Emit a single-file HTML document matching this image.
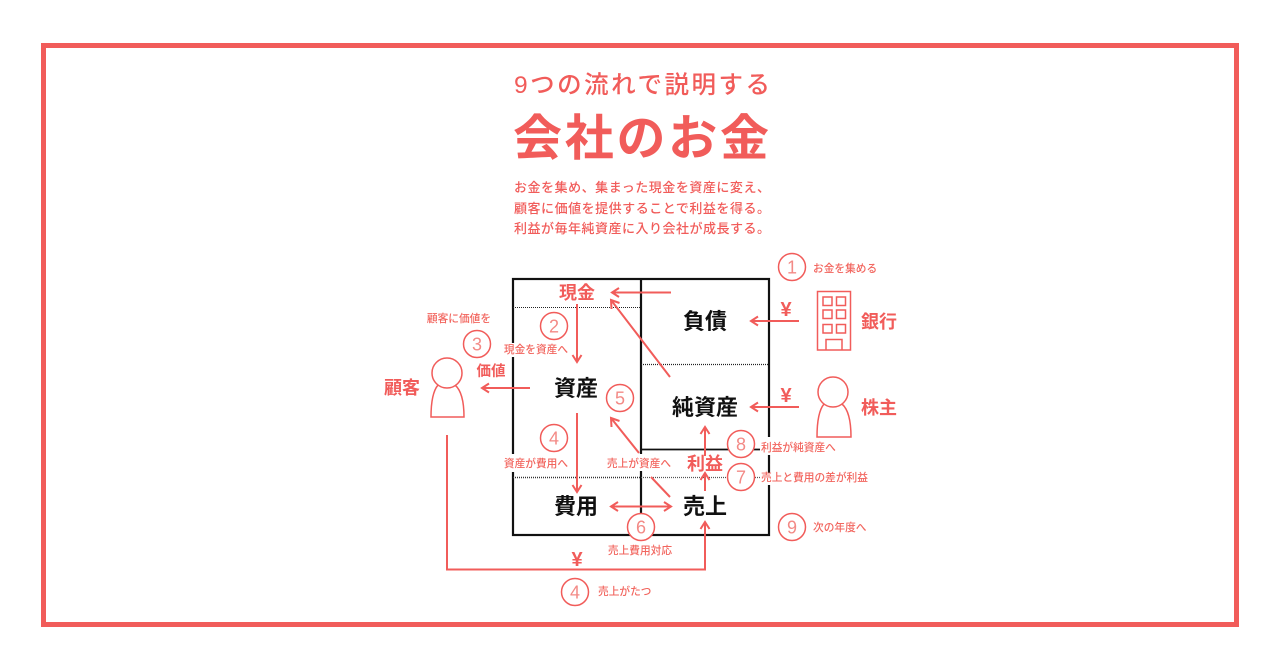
<!DOCTYPE html>
<html lang="ja">
<head>
<meta charset="utf-8">
<title>会社のお金</title>
<style>
html,body{margin:0;padding:0;background:#fff;width:1280px;height:670px;overflow:hidden}
svg{display:block}
text{font-family:"Liberation Sans","Noto Sans CJK JP",sans-serif;fill:#f15c5a}
.k{fill:#111;font-weight:700;font-size:22px;text-anchor:middle}
.r{font-weight:700;font-size:18px;text-anchor:middle}
.s{font-size:10.7px;fill:#f2665f;font-weight:500}
.m{text-anchor:middle}
.n{font-size:18px;text-anchor:middle;fill:#f38a86}
.b{font-size:13px;text-anchor:middle;fill:#f15c5a;font-weight:500}
.l{stroke:#f15c5a;stroke-width:2;fill:none}
.t{stroke:#f15c5a;stroke-width:1.5;fill:none}
.c{stroke:#f15c5a;stroke-width:1.500;fill:#fff}
.bk{stroke:#111;stroke-width:2.2;fill:none}
</style>
</head>
<body>
<svg width="1280" height="670" viewBox="0 0 1280 670" xmlns="http://www.w3.org/2000/svg">
<rect width="1280" height="670" fill="#fff"/>
<rect x="43.5" y="45.5" width="1193" height="579" fill="none" stroke="#f15c5a" stroke-width="5"/>

<text x="514" y="93" font-size="24.500" font-weight="500" textLength="256" lengthAdjust="spacing">9つの流れで説明する</text>
<text x="513" y="155" font-size="49" font-weight="700" textLength="256" lengthAdjust="spacing">会社のお金</text>
<text x="642" y="192" class="b" textLength="256" lengthAdjust="spacing">お金を集め、集まった現金を資産に変え、</text>
<text x="642" y="213" class="b" textLength="256" lengthAdjust="spacing">顧客に価値を提供することで利益を得る。</text>
<text x="642" y="233" class="b" textLength="256" lengthAdjust="spacing">利益が毎年純資産に入り会社が成長する。</text>

<!-- balance sheet -->
<rect x="513" y="279" width="256" height="256" class="bk"/>
<line x1="641" y1="279" x2="641" y2="535" class="bk"/>
<line x1="641" y1="449.500" x2="769" y2="449.500" stroke="#111" stroke-width="1.800"/>
<line x1="513" y1="307.500" x2="641" y2="307.500" stroke="#222" stroke-width="1" stroke-dasharray="1 1"/>
<line x1="641" y1="364.500" x2="769" y2="364.500" stroke="#222" stroke-width="1.200" stroke-dasharray="1 1"/>
<line x1="513" y1="477.500" x2="641" y2="477.500" stroke="#333" stroke-width="1.600" stroke-dasharray="1 1"/>
<line x1="641" y1="477.500" x2="769" y2="477.500" stroke="#555" stroke-width="1.200" stroke-dasharray="1 1"/>

<!-- label knockouts -->
<rect x="503" y="343" width="66" height="14" fill="#fff"/>
<rect x="503" y="454" width="66" height="18" fill="#fff"/>
<rect x="606" y="454" width="66" height="17" fill="#fff"/>
<rect x="760" y="437" width="78" height="18" fill="#fff"/>
<rect x="760" y="473" width="110" height="12" fill="#fff"/>

<!-- box labels -->
<text x="577" y="299" class="r">現金</text>
<text x="576" y="396" class="k">資産</text>
<text x="576" y="514" class="k">費用</text>
<text x="705" y="329" class="k">負債</text>
<text x="705" y="415" class="k">純資産</text>
<text x="705" y="514" class="k">売上</text>
<text x="705" y="470" class="r">利益</text>
<text x="491" y="376" font-size="14.500" font-weight="700" text-anchor="middle">価値</text>
<text x="402" y="394" class="r">顧客</text>
<text x="879" y="328" class="r">銀行</text>
<text x="879" y="414" class="r">株主</text>

<!-- arrows -->
<path class="l" d="M671 292.500H612M619 288l-7 4.500 7 4.500"/>
<path class="l" d="M577 304V362M572.500 355l4.500 7 4.500-7"/>
<path class="l" d="M670 377L611 300M611.500 309l-.5-9 8.500 3"/>
<path class="l" d="M799 321H751M758 316.500l-7 4.500 7 4.500"/>
<path class="l" d="M799 407H751M758 402.500l-7 4.500 7 4.500"/>
<path class="l" d="M530 388H482M489 383.500l-7 4.500 7 4.500"/>
<path class="l" d="M577 413V492M572.500 485l4.500 7 4.500-7"/>
<path class="l" d="M639 453L611 418M611.500 427l-.5-9 8.500 3"/>
<path class="l" d="M651 477L670 497"/>
<path class="l" d="M611 506.500H671M618 502l-7 4.500 7 4.500M664 502l7 4.500-7 4.500"/>
<path class="l" d="M705 491V473M700.500 480l4.500-7 4.500 7"/>
<path class="l" d="M705 456V427M700.500 434l4.500-7 4.500 7"/>
<path class="l" d="M447 435V569.500H705V522M700.500 529l4.500-7 4.500 7"/>

<text x="577" y="566" font-size="20" font-weight="700" text-anchor="middle">¥</text>
<text x="786" y="316" font-size="20" font-weight="700" text-anchor="middle">¥</text>
<text x="786" y="402" font-size="20" font-weight="700" text-anchor="middle">¥</text>

<!-- customer -->
<circle cx="447" cy="373" r="15" class="t"/>
<path class="t" d="M438 385C433 391 431 403 431 417H464C464 403 462 391 455 385"/>
<!-- shareholder -->
<circle cx="833" cy="392" r="15" class="t"/>
<path class="t" d="M824 404C819 410 817 423 817 437H851C851 423 849 410 842 404"/>
<!-- bank -->
<rect x="817.500" y="291.500" width="33" height="58.500" class="t"/>
<rect x="823" y="297" width="9" height="8.500" class="t"/><rect x="836.500" y="297" width="9" height="8.500" class="t"/>
<rect x="823" y="310" width="9" height="8.500" class="t"/><rect x="836.500" y="310" width="9" height="8.500" class="t"/>
<rect x="823" y="324.500" width="9" height="8.500" class="t"/><rect x="836.500" y="324.500" width="9" height="8.500" class="t"/>
<path class="t" d="M826 350V339.500H842V350"/>

<!-- numbered circles -->
<circle cx="792" cy="267" r="13.500" class="c"/><text x="792" y="273.500" class="n">1</text>
<circle cx="554" cy="326" r="13.500" class="c"/><text x="554" y="332.500" class="n">2</text>
<circle cx="477" cy="344" r="13.500" class="c"/><text x="477" y="350.500" class="n">3</text>
<circle cx="620" cy="398" r="13.500" class="c"/><text x="620" y="404.500" class="n">5</text>
<circle cx="554" cy="438" r="13.500" class="c"/><text x="554" y="444.500" class="n">4</text>
<circle cx="741" cy="444" r="13.500" class="c"/><text x="741" y="450.500" class="n">8</text>
<circle cx="741" cy="477" r="13.500" class="c"/><text x="741" y="483.500" class="n">7</text>
<circle cx="641" cy="527" r="13.500" class="c"/><text x="641" y="533.500" class="n">6</text>
<circle cx="792" cy="527" r="13.500" class="c"/><text x="792" y="533.500" class="n">9</text>
<circle cx="575" cy="592" r="13.500" class="c"/><text x="575" y="598.500" class="n">4</text>

<!-- small labels -->
<text x="813" y="272" class="s">お金を集める</text>
<text x="459" y="322" class="s m">顧客に価値を</text>
<text x="536" y="353" class="s m">現金を資産へ</text>
<text x="536" y="467" class="s m">資産が費用へ</text>
<text x="639" y="467" class="s m">売上が資産へ</text>
<text x="640" y="554" class="s m">売上費用対応</text>
<text x="598" y="595" class="s">売上がたつ</text>
<text x="813" y="531" class="s">次の年度へ</text>
<text x="761" y="451" class="s">利益が純資産へ</text>
<text x="761" y="481" class="s">売上と費用の差が利益</text>
</svg>
</body>
</html>
